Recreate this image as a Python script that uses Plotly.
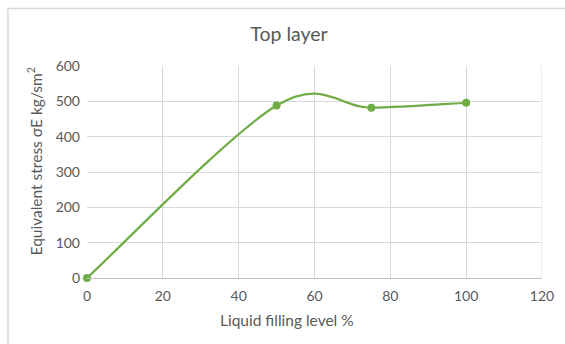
import plotly.graph_objects as go

# Filling level (%) and equivalent stress in the top layer
filling_level = [0, 50, 75, 100]
stress = [0, 488, 482, 496]

x_ticks = [0, 20, 40, 60, 80, 100, 120]
y_ticks = [0, 100, 200, 300, 400, 500, 600]

GREEN = "#70ad47"
GRID = "#d9d9d9"
TEXT = "#595959"
FONT = "Lato"

# Plot-area geometry in pixels (used to place titles and frame)
W, H = 565, 344
L, R, T, B = 87, 23, 66, 66
PW, PH = W - L - R, H - T - B


def px_x(px):
    return (px - L) / PW


def px_y(py):
    return (H - B - py) / PH


def smooth_path(xs, ys, k=1 / 6):
    """Cubic Bezier path through the points (Catmull-Rom style tangents)."""
    pts = list(zip(xs, ys))
    n = len(pts)
    d = f"M {pts[0][0]},{pts[0][1]}"
    for i in range(n - 1):
        p0 = pts[i - 1] if i > 0 else pts[i]
        p1 = pts[i]
        p2 = pts[i + 1]
        p3 = pts[i + 2] if i + 2 < n else pts[i + 1]
        c1 = (p1[0] + (p2[0] - p0[0]) * k, p1[1] + (p2[1] - p0[1]) * k)
        c2 = (p2[0] - (p3[0] - p1[0]) * k, p2[1] - (p3[1] - p1[1]) * k)
        d += f" C {c1[0]},{c1[1]} {c2[0]},{c2[1]} {p2[0]},{p2[1]}"
    return d


fig = go.Figure(
    go.Scatter(
        x=filling_level,
        y=stress,
        mode="markers",
        marker=dict(color=GREEN, size=8),
        cliponaxis=False,
        showlegend=False,
    )
)

# Smoothed connecting line in data coordinates
fig.add_shape(type="path", xref="x", yref="y", path=smooth_path(filling_level, stress),
              line=dict(color=GREEN, width=2.25), layer="between")

fig.update_layout(
    width=W,
    height=H,
    margin=dict(l=L, r=R, t=T, b=B),
    paper_bgcolor="white",
    plot_bgcolor="white",
    font=dict(family=FONT, color=TEXT),
    title=dict(
        text="Top layer",
        x=289 / W,
        xref="container",
        xanchor="center",
        y=1 - 34 / H,
        yanchor="middle",
        font=dict(size=19.5, color=TEXT, family=FONT),
    ),
    xaxis=dict(
        range=[0, 120],
        tickvals=x_ticks,
        ticktext=[str(v) for v in x_ticks],
        showgrid=True,
        gridcolor=GRID,
        gridwidth=1,
        zeroline=False,
        showline=True,
        linecolor="#bfbfbf",
        ticks="",
        tickfont=dict(size=14, color=TEXT),
        ticklabelstandoff=5,
    ),
    yaxis=dict(
        range=[0, 600],
        tickvals=y_ticks,
        ticktext=[str(v) for v in y_ticks],
        showgrid=True,
        gridcolor=GRID,
        gridwidth=1,
        zeroline=False,
        showline=False,
        ticks="",
        tickfont=dict(size=14, color=TEXT),
        ticklabelstandoff=6,
    ),
    annotations=[
        dict(text="Liquid filling level %", xref="paper", yref="paper",
             x=px_x(287), y=px_y(320), xanchor="center", yanchor="middle",
             showarrow=False, font=dict(size=15.5, color=TEXT)),
        dict(text="Equivalent stress σE kg/sm<sup>2</sup>", xref="paper", yref="paper",
             x=px_x(35), y=px_y(161.5), xanchor="center", yanchor="middle",
             textangle=-90, showarrow=False, font=dict(size=15.5, color=TEXT)),
    ],
)

# Right edge of the plot-area grid
fig.add_shape(type="line", xref="x", yref="y", x0=120, x1=120, y0=0, y1=600,
              line=dict(color=GRID, width=1), layer="below")

# Chart frame
fig.add_shape(type="rect", xref="paper", yref="paper",
              x0=px_x(8), x1=px_x(575), y0=px_y(354), y1=px_y(8.5),
              line=dict(color="#d9d9d9", width=1.5), fillcolor="rgba(0,0,0,0)", layer="below")

fig.write_html("out.html")
